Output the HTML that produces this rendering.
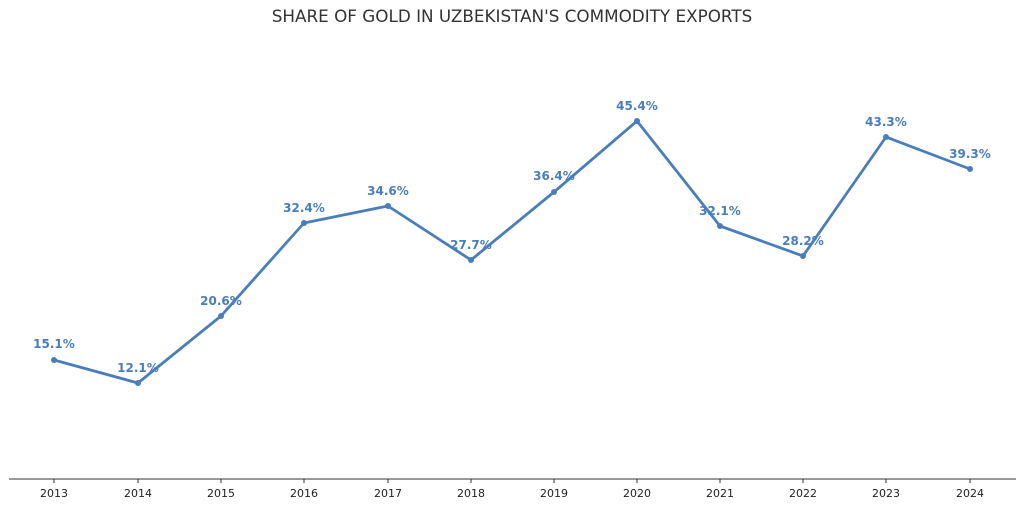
<!DOCTYPE html>
<html><head><meta charset="utf-8"><style>
html,body{margin:0;padding:0;background:#fff;}
svg{display:block;font-family:"DejaVu Sans","Liberation Sans",sans-serif;}
</style></head><body>
<svg width="1024" height="508" viewBox="0 0 1024 508" xmlns="http://www.w3.org/2000/svg">
<text x="512" y="22" text-anchor="middle" font-size="16.8" fill="#333">SHARE OF GOLD IN UZBEKISTAN'S COMMODITY EXPORTS</text>
<line x1="9" y1="479" x2="1016" y2="479" stroke="#333" stroke-width="1"/>
<g stroke="#333" stroke-width="1">
<line x1="54" y1="479" x2="54" y2="483"/><line x1="138" y1="479" x2="138" y2="483"/><line x1="221" y1="479" x2="221" y2="483"/><line x1="304" y1="479" x2="304" y2="483"/><line x1="388" y1="479" x2="388" y2="483"/><line x1="471" y1="479" x2="471" y2="483"/><line x1="554" y1="479" x2="554" y2="483"/><line x1="637" y1="479" x2="637" y2="483"/><line x1="720" y1="479" x2="720" y2="483"/><line x1="803" y1="479" x2="803" y2="483"/><line x1="886" y1="479" x2="886" y2="483"/><line x1="970" y1="479" x2="970" y2="483"/>
</g>
<g font-size="11" fill="#222" text-anchor="middle">
<text x="54" y="497">2013</text><text x="138" y="497">2014</text><text x="221" y="497">2015</text><text x="304" y="497">2016</text><text x="388" y="497">2017</text><text x="471" y="497">2018</text><text x="554" y="497">2019</text><text x="637" y="497">2020</text><text x="720" y="497">2021</text><text x="803" y="497">2022</text><text x="886" y="497">2023</text><text x="970" y="497">2024</text>
</g>
<polyline fill="none" stroke="#4a7ebb" stroke-width="2.8" stroke-linejoin="round" points="54,360 138,383 221,316 304,223 388,206 471,260 554,192 637,121 720,226 803,256 886,137 970,169"/>
<g fill="#4a7ebb">
<circle cx="54" cy="360" r="3"/><circle cx="138" cy="383" r="3"/><circle cx="221" cy="316" r="3"/><circle cx="304" cy="223" r="3"/><circle cx="388" cy="206" r="3"/><circle cx="471" cy="260" r="3"/><circle cx="554" cy="192" r="3"/><circle cx="637" cy="121" r="3"/><circle cx="720" cy="226" r="3"/><circle cx="803" cy="256" r="3"/><circle cx="886" cy="137" r="3"/><circle cx="970" cy="169" r="3"/>
</g>
<g font-size="12" font-weight="bold" fill="#4a7ebb" text-anchor="middle">
<text x="54" y="348">15.1%</text><text x="138" y="372">12.1%</text><text x="221" y="305">20.6%</text><text x="304" y="212">32.4%</text><text x="388" y="195">34.6%</text><text x="471" y="249">27.7%</text><text x="554" y="180">36.4%</text><text x="637" y="110">45.4%</text><text x="720" y="215">32.1%</text><text x="803" y="245">28.2%</text><text x="886" y="126">43.3%</text><text x="970" y="158">39.3%</text>
</g>
</svg>
</body></html>
